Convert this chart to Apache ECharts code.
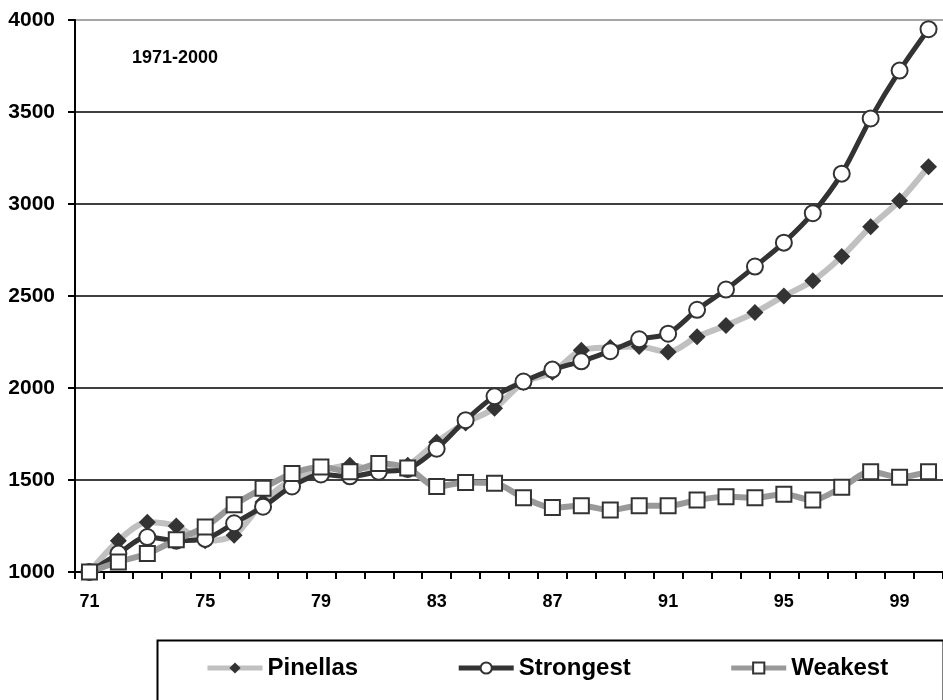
<!DOCTYPE html>
<html>
<head>
<meta charset="utf-8">
<script src="https://cdn.jsdelivr.net/npm/echarts@6/dist/echarts.min.js"></script>
<style>
  html, body { margin: 0; padding: 0; background: #fff; }
  #chart { width: 943px; height: 700px; }
</style>
</head>
<body>
<div id="chart"></div>
<script>
// years 1971-2000, shown as two digits
const years = ['71','72','73','74','75','76','77','78','79','80','81','82','83','84','85',
  '86','87','88','89','90','91','92','93','94','95','96','97','98','99','00'];

const pinellas = [1000, 1170, 1270, 1250, 1170, 1200, 1380, 1500, 1550, 1580, 1550, 1580, 1705, 1810, 1890,
  2030, 2085, 2205, 2220, 2225, 2195, 2278, 2340, 2410, 2500, 2583, 2714, 2877, 3018, 3203];
const strongest = [1000, 1100, 1190, 1170, 1180, 1265, 1355, 1465, 1530, 1520, 1545, 1560, 1670, 1825, 1955,
  2035, 2100, 2145, 2200, 2265, 2295, 2425, 2535, 2660, 2790, 2950, 3165, 3465, 3725, 3950];
const weakest = [1000, 1055, 1100, 1175, 1245, 1365, 1455, 1535, 1570, 1545, 1590, 1565, 1465, 1487, 1482,
  1404, 1350, 1360, 1337, 1360, 1360, 1391, 1409, 1404, 1422, 1391, 1460, 1545, 1515, 1545];

const periodLabel = '1971-2000';
const FONT = '"Liberation Sans", Arial, sans-serif';

const chart = echarts.init(document.getElementById('chart'));

chart.setOption({
  animation: false,
  backgroundColor: '#fff',
  grid: { left: 75, top: 20, width: 877, height: 552 },
  graphic: [
    {
      type: 'text', left: 132, top: 49,
      style: { text: periodLabel, font: 'bold 18px ' + FONT, fill: '#000' }
    },
    {
      type: 'rect', left: 155, top: 638,
      shape: { width: 786, height: 90 },
      style: { fill: 'none', stroke: '#000', lineWidth: 2 }
    }
  ],
  legend: {
    left: 205, top: 656, padding: 0,
    itemWidth: 55, itemHeight: 14, itemGap: 98,
    lineStyle: { width: 5 },
    textStyle: { fontFamily: FONT, fontWeight: 'bold', fontSize: 24, color: '#000' },
    data: ['Pinellas', 'Strongest', 'Weakest']
  },
  xAxis: {
    type: 'category',
    data: years,
    boundaryGap: true,
    axisLine: { lineStyle: { color: '#000', width: 2 } },
    axisTick: { show: true, interval: 0, length: 7, lineStyle: { color: '#000', width: 2 } },
    axisLabel: { interval: 3, margin: 21, fontFamily: FONT, fontWeight: 'bold', fontSize: 18, color: '#000' },
    splitLine: { show: false }
  },
  yAxis: {
    type: 'value',
    min: 1000, max: 4000, interval: 500,
    axisLine: { show: true, lineStyle: { color: '#000', width: 2 } },
    axisTick: { show: true, length: 7, lineStyle: { color: '#000', width: 2 } },
    axisLabel: {
      margin: 20, fontFamily: FONT, fontWeight: 'bold', fontSize: 21, color: '#000',
      formatter: v => String(v)
    },
    splitLine: { show: true, lineStyle: { color: ['#000','#000','#000','#000','#000','#000','#888'], width: 1.5 } }
  },
  series: [
    {
      name: 'Pinellas', type: 'line', data: pinellas, smooth: 0.3,
      symbol: 'diamond', symbolSize: 17,
      lineStyle: { color: '#c0c0c0', width: 6 },
      itemStyle: { color: '#333', borderColor: '#333', borderWidth: 0 }
    },
    {
      name: 'Strongest', type: 'line', data: strongest, smooth: 0.3,
      symbol: 'circle', symbolSize: 16,
      lineStyle: { color: '#333', width: 5 },
      itemStyle: { color: '#fff', borderColor: '#333', borderWidth: 2 }
    },
    {
      name: 'Weakest', type: 'line', data: weakest, smooth: 0.3,
      symbol: 'rect', symbolSize: 15,
      lineStyle: { color: '#999', width: 6 },
      itemStyle: { color: '#fff', borderColor: '#333', borderWidth: 2 }
    }
  ]
});
</script>
</body>
</html>
